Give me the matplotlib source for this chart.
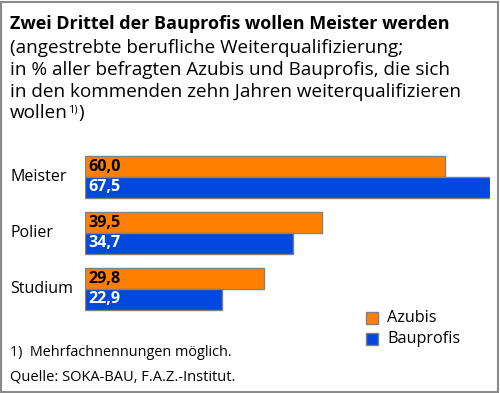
import matplotlib
matplotlib.use("Agg")
import matplotlib.pyplot as plt
from matplotlib.patches import Rectangle
import matplotlib.transforms as mtransforms
import numpy as np

categories = ["Meister", "Polier", "Studium"]
azubis = [60.0, 39.5, 29.8]
bauprofis = [67.5, 34.7, 22.9]
series_names = ["Azubis", "Bauprofis"]
title = "Zwei Drittel der Bauprofis wollen Meister werden"
subtitle_lines = [
    "(angestrebte berufliche Weiterqualifizierung;",
    "in % aller befragten Azubis und Bauprofis, die sich",
    "in den kommenden zehn Jahren weiterqualifizieren",
    "wollen",
]
footnote = "1)  Mehrfachnennungen möglich."
source = "Quelle: SOKA-BAU, F.A.Z.-Institut."

ORANGE = "#ff8000"
BLUE = "#0048e0"
EDGE = "#808080"
FONT = ["Open Sans", "DejaVu Sans"]
plt.rcParams["font.family"] = FONT

W, H = 500, 393
fig = plt.figure(figsize=(W / 100, H / 100), dpi=100)
fig.patch.set_facecolor("white")

def fx(px):
    return px / W

def fy(py):
    return 1 - py / H

# frame
fig.add_artist(Rectangle((fx(1), fy(392)), fx(497), 390 / H, transform=fig.transFigure,
                         fill=False, edgecolor="#8a8a8a", linewidth=1.5))

# axes: x from 85px to 490px => 0..67.5
ax = fig.add_axes([fx(85), fy(317), fx(405), 168 / H])
ax.set_xlim(0, 67.5)
ax.set_ylim(2.5, -0.5)
ax.axis("off")

y = np.arange(len(categories))
h = 0.37
ax.barh(y - h / 2, azubis, height=h, color=ORANGE, edgecolor=EDGE, linewidth=1)
ax.barh(y + h / 2, bauprofis, height=h, color=BLUE, edgecolor=EDGE, linewidth=1)
lab_tr = mtransforms.blended_transform_factory(fig.transFigure, ax.transData)
for i in range(len(categories)):
    ax.text(0.6, y[i] - h / 2, f"{azubis[i]:.1f}".replace(".", ","), color="black",
            fontsize=11.6, fontweight="bold", va="center", ha="left")
    ax.text(0.6, y[i] + h / 2, f"{bauprofis[i]:.1f}".replace(".", ","), color="white",
            fontsize=11.6, fontweight="bold", va="center", ha="left")
    ax.text(fx(10), y[i], categories[i], transform=lab_tr,
            fontsize=11.5, va="center", ha="left")

# title and subtitle
fig.text(fx(10), fy(29), title, fontsize=13, fontweight="bold", va="baseline", ha="left")
baselines = [53, 75, 97, 118]
last = None
for line, b in zip(subtitle_lines, baselines):
    last = fig.text(fx(10), fy(b), line, fontsize=13.6, va="baseline", ha="left")
fig.canvas.draw()
r = fig.canvas.get_renderer()
bb = last.get_window_extent(r)
sup = fig.text(bb.x1 / W + fx(0.5), fy(113), "1)", fontsize=8, va="baseline", ha="left")
fig.canvas.draw()
bb2 = sup.get_window_extent(r)
fig.text(bb2.x1 / W + fx(0.5), fy(118), ")", fontsize=13.6, va="baseline", ha="left")

# legend
for name, col, cy in [(series_names[0], ORANGE, 318), (series_names[1], BLUE, 339)]:
    fig.add_artist(Rectangle((fx(366), fy(cy + 6)), fx(12), 12 / H, transform=fig.transFigure,
                             facecolor=col, edgecolor=EDGE, linewidth=1))
    fig.text(fx(387), fy(cy), name, fontsize=11.7, va="center", ha="left")

fig.text(fx(10), fy(353), footnote, fontsize=10.4, va="center", ha="left")
fig.text(fx(10), fy(377), source, fontsize=10.5, va="center", ha="left")

fig.savefig("out.png", dpi=100)
